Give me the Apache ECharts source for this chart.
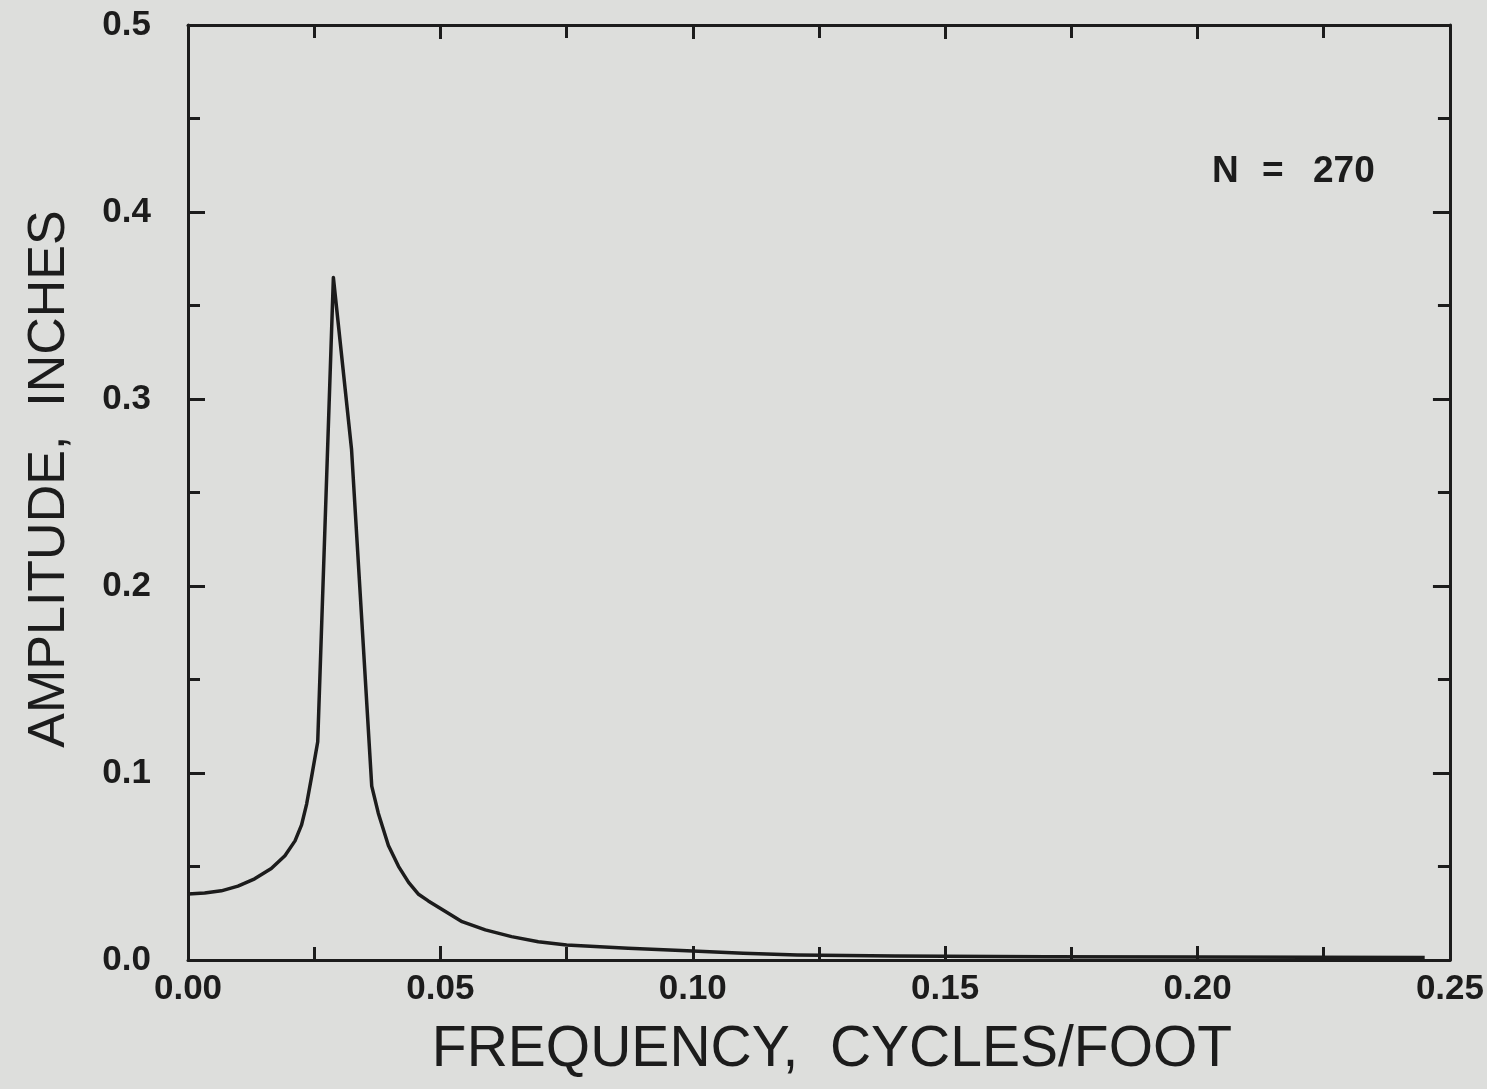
<!DOCTYPE html>
<html>
<head>
<meta charset="utf-8">
<script src="https://cdn.jsdelivr.net/npm/echarts@6/dist/echarts.min.js"></script>
<style>
html,body{margin:0;padding:0;background:#dddedc;}
#c{width:1487px;height:1089px;}
</style>
</head>
<body>
<div id="c"></div>
<script>
// Frequency (cycles/foot) and amplitude (inches)
var frequency = [0, 0.0033, 0.0066, 0.0099, 0.0132, 0.0165, 0.0192, 0.0212, 0.0225, 0.0235, 0.0245, 0.0257,
  0.0288, 0.0324, 0.0364, 0.0377, 0.0397, 0.0417, 0.0437, 0.0456, 0.0476, 0.051, 0.0543, 0.0589, 0.0641,
  0.0694, 0.075, 0.0872, 0.1, 0.110, 0.1207, 0.14, 0.17, 0.2, 0.245];
var amplitude = [0.0353, 0.0358, 0.037, 0.0395, 0.0434, 0.0489, 0.0558, 0.0637, 0.0723, 0.0834, 0.0982, 0.1167,
  0.365, 0.273, 0.093, 0.0785, 0.0612, 0.0501, 0.0415, 0.0353, 0.0316, 0.0259, 0.0205, 0.0161, 0.0125,
  0.0098, 0.008, 0.0063, 0.0048, 0.0036, 0.0027, 0.0022, 0.0018, 0.0016, 0.0014];
var xTitle = 'FREQUENCY,  CYCLES/FOOT';
var yTitle = 'AMPLITUDE,  INCHES';
var annotation = ['N', '=', '270'];

var ink = '#1c1c1c';
var labelFont = {fontFamily: 'Liberation Sans', fontWeight: 'bold', fontSize: 35, color: ink};
var points = frequency.map(function (f, i) { return [f, amplitude[i]]; });

var chart = echarts.init(document.getElementById('c'), null, {renderer: 'canvas'});
var xBase = {
  type: 'value', min: 0, max: 0.25, interval: 0.05,
  axisLine: {show: true, onZero: false, lineStyle: {color: ink, width: 3}},
  axisTick: {show: true, inside: true, length: 14, lineStyle: {color: ink, width: 3}},
  minorTick: {show: true, splitNumber: 2, length: 13, lineStyle: {color: ink, width: 3}},
  splitLine: {show: false}
};
var yBase = {
  type: 'value', min: 0, max: 0.5, interval: 0.1,
  axisLine: {show: true, onZero: false, lineStyle: {color: ink, width: 3}},
  axisTick: {show: true, inside: true, length: 17, lineStyle: {color: ink, width: 3}},
  minorTick: {show: true, splitNumber: 2, length: 12, lineStyle: {color: ink, width: 3}},
  splitLine: {show: false}
};
chart.setOption({
  backgroundColor: '#dddedc',
  animation: false,
  grid: {left: 188, right: 34, top: 25, bottom: 129, containLabel: false},
  xAxis: [
    Object.assign({}, xBase, {
      position: 'bottom',
      axisLabel: Object.assign({margin: 12, formatter: function (v) { return v.toFixed(2); }}, labelFont)
    }),
    Object.assign({}, xBase, {position: 'top', axisLabel: {show: false}})
  ],
  yAxis: [
    Object.assign({}, yBase, {
      position: 'left',
      axisLabel: Object.assign({margin: 37, formatter: function (v) { return v.toFixed(1); }}, labelFont)
    }),
    Object.assign({}, yBase, {position: 'right', axisLabel: {show: false}})
  ],
  series: [{
    type: 'line', xAxisIndex: 0, yAxisIndex: 0,
    data: points, showSymbol: false, symbol: 'none', smooth: false,
    lineStyle: {color: ink, width: 3.5, join: 'round'}
  }],
  graphic: [
    {type: 'text', x: 832, y: 1050, style: {text: xTitle, font: '57px "Liberation Sans"', fill: ink, textAlign: 'center', textVerticalAlign: 'middle'}},
    {type: 'text', x: 50, y: 479, rotation: Math.PI / 2, style: {text: yTitle, font: '52px "Liberation Sans"', fill: ink, textAlign: 'center', textVerticalAlign: 'middle'}},
    {type: 'text', left: 1212, top: 153, style: {text: annotation[0], font: 'bold 37px "Liberation Sans"', fill: ink}},
    {type: 'text', left: 1262, top: 153, style: {text: annotation[1], font: 'bold 37px "Liberation Sans"', fill: ink}},
    {type: 'text', left: 1313, top: 153, style: {text: annotation[2], font: 'bold 37px "Liberation Sans"', fill: ink}}
  ]
});
</script>
</body>
</html>
